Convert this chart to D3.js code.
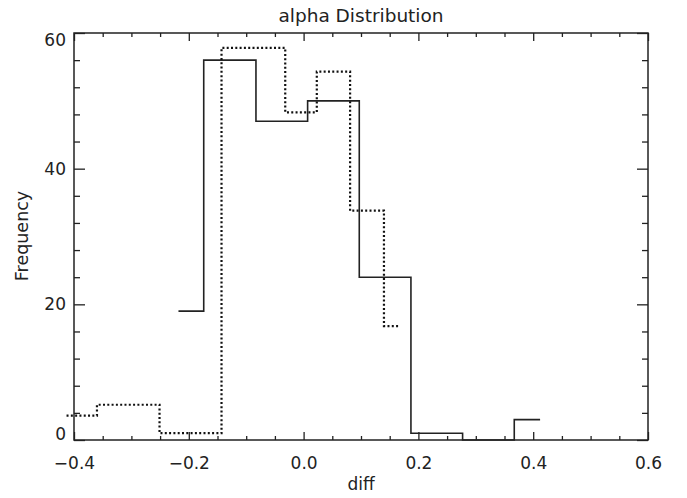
<!DOCTYPE html>
<html>
<head>
<meta charset="utf-8">
<script src="https://cdn.jsdelivr.net/npm/d3@7"></script>
<style>
  html, body { margin: 0; padding: 0; background: #fff; }
  svg { display: block; }
  text { font-family: "DejaVu Sans", sans-serif; fill: #222; }
</style>
</head>
<body>
<script>
// ---- data ----
const titleText = "alpha Distribution";
const xLabelText = "diff";
const yLabelText = "Frequency";
const xMajorTicks = [-0.4, -0.2, 0.0, 0.2, 0.4, 0.6];
const yMajorTicks = [0, 20, 40, 60];
// solid histogram: bin edges and counts
const solidEdges = [-0.218, -0.174, -0.083, 0.007, 0.097, 0.187, 0.277, 0.367, 0.412];
const solidCounts = [19, 56, 47, 50, 24, 1, 0, 3];
// dotted histogram: bin edges and counts
const dottedEdges = [-0.413, -0.360, -0.251, -0.143, -0.032, 0.023, 0.081, 0.140, 0.168];
const dottedCounts = [3.6, 5.2, 1, 57.8, 48.3, 54.3, 33.8, 16.8];

// ---- layout ----
const W = 687, H = 498;
const m = { left: 74, top: 33, right: 39, bottom: 58 };
const pw = W - m.left - m.right, ph = H - m.top - m.bottom;
const ink = "#222";

const svg = d3.select("body").append("svg").attr("width", W).attr("height", H);
svg.append("rect").attr("width", W).attr("height", H).attr("fill", "#fff");

const x = d3.scaleLinear().domain([-0.4, 0.6]).range([m.left, m.left + pw]);
const y = d3.scaleLinear().domain([0, 60]).range([m.top + ph, m.top]);

const xMinor = d3.range(-0.4, 0.6001, 0.05).map(v => +v.toFixed(2)).filter(v => !xMajorTicks.some(t => Math.abs(t - v) < 1e-9));
const yMinor = d3.range(0, 60.001, 4).filter(v => v % 20 !== 0);

const fmtX = d3.format(".1f");
const minusFmt = v => fmtX(v).replace("-", "\u2212");

function styleAxis(g) {
  g.select(".domain").remove();
  g.selectAll("line").attr("stroke", ink).attr("stroke-width", 1.3);
  g.selectAll("text").attr("font-family", "DejaVu Sans, sans-serif").attr("font-size", 17).attr("fill", ink);
}

// bottom
svg.append("g").attr("transform", `translate(0,${m.top + ph})`)
  .call(d3.axisBottom(x).tickValues(xMajorTicks).tickSize(-8).tickPadding(17).tickFormat(minusFmt))
  .call(styleAxis);
svg.append("g").attr("transform", `translate(0,${m.top + ph})`)
  .call(d3.axisBottom(x).tickValues(xMinor).tickSize(-4).tickFormat(""))
  .call(styleAxis);
// top
svg.append("g").attr("transform", `translate(0,${m.top})`)
  .call(d3.axisTop(x).tickValues(xMajorTicks).tickSize(-8).tickFormat(""))
  .call(styleAxis);
svg.append("g").attr("transform", `translate(0,${m.top})`)
  .call(d3.axisTop(x).tickValues(xMinor).tickSize(-4).tickFormat(""))
  .call(styleAxis);
// left
const gl = svg.append("g").attr("transform", `translate(${m.left},0)`)
  .call(d3.axisLeft(y).tickValues(yMajorTicks).tickSize(-11).tickPadding(8).tickFormat(d3.format("d")))
  .call(styleAxis);
// keep labels inside the frame height (as in the reference)
gl.selectAll(".tick text").attr("dy", d => {
  const py = y(d);
  const cy = Math.min(Math.max(py, m.top + 7), m.top + ph - 6);
  return (cy - py + 0.32 * 17) + "px";
});
svg.append("g").attr("transform", `translate(${m.left},0)`)
  .call(d3.axisLeft(y).tickValues(yMinor).tickSize(-6).tickFormat(""))
  .call(styleAxis);
// right
svg.append("g").attr("transform", `translate(${m.left + pw},0)`)
  .call(d3.axisRight(y).tickValues(yMajorTicks).tickSize(-11).tickFormat(""))
  .call(styleAxis);
svg.append("g").attr("transform", `translate(${m.left + pw},0)`)
  .call(d3.axisRight(y).tickValues(yMinor).tickSize(-6).tickFormat(""))
  .call(styleAxis);

// frame
svg.append("rect").attr("x", m.left).attr("y", m.top).attr("width", pw).attr("height", ph)
  .attr("fill", "none").attr("stroke", ink).attr("stroke-width", 1.5);

// histograms
function stepPoints(edges, counts) {
  const pts = counts.map((c, i) => [edges[i], c]);
  pts.push([edges[edges.length - 1], counts[counts.length - 1]]);
  return pts;
}
const line = d3.line().x(d => x(d[0])).y(d => y(d[1])).curve(d3.curveStepAfter);

svg.append("path").datum(stepPoints(solidEdges, solidCounts))
  .attr("d", line).attr("fill", "none").attr("stroke", ink).attr("stroke-width", 1.6);

svg.append("path").datum(stepPoints(dottedEdges, dottedCounts))
  .attr("d", line).attr("fill", "none").attr("stroke", "#111").attr("stroke-width", 2.2)
  .attr("stroke-dasharray", "2,2.3");

// texts
svg.append("text").attr("x", m.left + pw / 2).attr("y", 22).attr("text-anchor", "middle")
  .attr("font-family", "Liberation Sans, Arial, sans-serif")
  .attr("font-size", 18.5).text(titleText);
svg.append("text").attr("x", m.left + pw / 2).attr("y", 490).attr("text-anchor", "middle")
  .attr("font-size", 17).text(xLabelText);
svg.append("text").attr("transform", `translate(28,236) rotate(-90)`).attr("text-anchor", "middle")
  .attr("font-size", 17.5).text(yLabelText);
</script>
</body>
</html>
